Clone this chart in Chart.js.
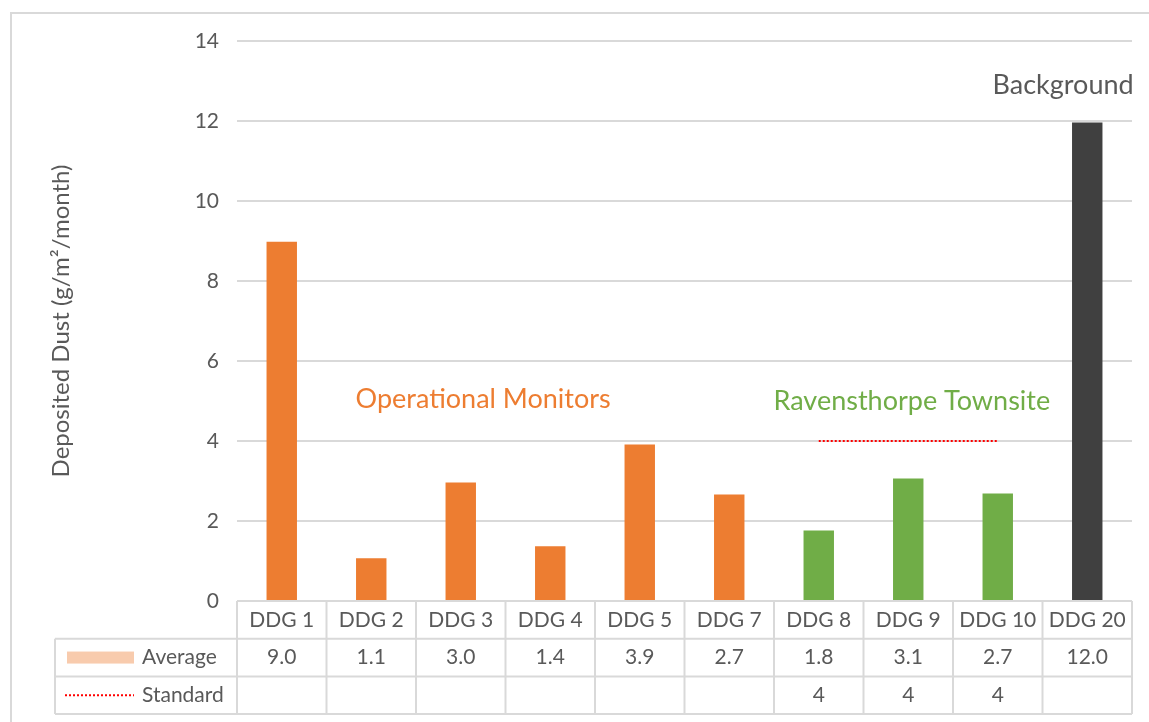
<!DOCTYPE html>
<html>
<head>
<meta charset="utf-8">
<script src="https://cdn.jsdelivr.net/npm/chart.js@4/dist/chart.umd.min.js"></script>
<style>
  body { margin: 0; background: #fff; }
  #frame { position: absolute; left: 10px; top: 12px; width: 1139px; height: 710px;
           border-top: 2px solid #d9d9d9; border-left: 2px solid #d9d9d9; box-sizing: border-box; }
  canvas { position: absolute; left: 0; top: 0; }
</style>
</head>
<body>
<div id="frame"></div>
<canvas id="chart" width="1149" height="722"></canvas>
<script>
// dados do gráfico
const categories = ["DDG 1", "DDG 2", "DDG 3", "DDG 4", "DDG 5", "DDG 7", "DDG 8", "DDG 9", "DDG 10", "DDG 20"];
const averageValues = [8.98, 1.07, 2.96, 1.37, 3.91, 2.66, 1.76, 3.06, 2.69, 11.96];
const standardValues = [null, null, null, null, null, null, 4, 4, 4, null];
const groups = ["op", "op", "op", "op", "op", "op", "town", "town", "town", "bg"];
const yTicks = [0, 2, 4, 6, 8, 10, 12, 14];

const groupColors = { op: "#ED7D31", town: "#70AD47", bg: "#404040" };
const textColor = "#595959";
const lineColor = "#d9d9d9";
const fontFamily = "Lato, 'Open Sans', sans-serif";

// textos sobre o gráfico (posição em índice de categoria / valor)
const notes = [
  { text: "Operational Monitors", x: 2.25, y: 5.05, color: "#ED7D31" },
  { text: "Ravensthorpe Townsite", x: 7.04, y: 5.0, color: "#70AD47" },
  { text: "Background", x: 8.73, y: 12.9, color: "#595959" }
];

const tablePlugin = {
  id: "dataTable",
  afterDraw(chart) {
    const ctx = chart.ctx;
    const xs = chart.scales.x;
    const ys = chart.scales.y;
    const area = chart.chartArea;
    const step = xs.getPixelForValue(1) - xs.getPixelForValue(0);
    const left0 = xs.getPixelForValue(0) - step / 2;
    const right = left0 + step * categories.length;
    const rowH = 37.7;
    const top = area.bottom;
    const labelLeft = 55;

    ctx.save();
    ctx.strokeStyle = lineColor;
    ctx.lineWidth = 2;
    ctx.beginPath();
    ctx.moveTo(left0, top); ctx.lineTo(right, top);
    for (let r = 1; r <= 3; r++) {
      ctx.moveTo(labelLeft, top + rowH * r); ctx.lineTo(right, top + rowH * r);
    }
    for (let i = 0; i <= categories.length; i++) {
      const x = left0 + step * i;
      ctx.moveTo(x, top); ctx.lineTo(x, top + rowH * 3);
    }
    ctx.moveTo(labelLeft, top + rowH); ctx.lineTo(labelLeft, top + rowH * 3);
    ctx.stroke();

    ctx.font = "21px " + fontFamily;
    ctx.fillStyle = textColor;
    ctx.textAlign = "center";
    ctx.textBaseline = "middle";
    categories.forEach((c, i) => {
      const cx = xs.getPixelForValue(i);
      ctx.fillText(c, cx, top + rowH * 0.5);
      ctx.fillText(averageValues[i].toFixed(1), cx, top + rowH * 1.5);
      if (standardValues[i] !== null) ctx.fillText(String(standardValues[i]), cx, top + rowH * 2.5);
    });

    // chaves da legenda
    ctx.fillStyle = "#F8CBAD";
    ctx.fillRect(67, top + rowH * 1.5 - 6, 67, 12);
    ctx.strokeStyle = "#FF0000";
    ctx.lineWidth = 2;
    ctx.setLineDash([2, 2]);
    ctx.beginPath();
    ctx.moveTo(65, top + rowH * 2.5); ctx.lineTo(134, top + rowH * 2.5);
    ctx.stroke();
    ctx.setLineDash([]);
    ctx.fillStyle = textColor;
    ctx.textAlign = "left";
    ctx.fillText("Average", 142, top + rowH * 1.5);
    ctx.fillText("Standard", 142, top + rowH * 2.5);

    // anotações
    ctx.font = "27px " + fontFamily;
    ctx.textAlign = "center";
    notes.forEach(n => {
      ctx.fillStyle = n.color;
      ctx.fillText(n.text, xs.getPixelForValue(n.x), ys.getPixelForValue(n.y));
    });
    ctx.restore();
  }
};

new Chart(document.getElementById("chart").getContext("2d"), {
  type: "bar",
  data: {
    labels: categories,
    datasets: [{
      type: "line",
      label: "Standard",
      data: standardValues,
      borderColor: "#FF0000",
      borderWidth: 2,
      borderDash: [2, 2],
      pointRadius: 0,
      fill: false,
      spanGaps: false,
      order: 0
    }, {
      label: "Average",
      data: averageValues,
      backgroundColor: groups.map(g => groupColors[g]),
      borderWidth: 0,
      barPercentage: 0.34,
      categoryPercentage: 1,
      order: 1
    }]
  },
  options: {
    responsive: false,
    animation: false,
    layout: { padding: { top: 41, right: 17, bottom: 121, left: 0 } },
    plugins: {
      legend: { display: false },
      tooltip: { enabled: false }
    },
    scales: {
      x: { display: false },
      y: {
        min: 0,
        max: 14,
        afterFit(scale) { scale.width = 237; },
        afterBuildTicks(scale) { scale.ticks = yTicks.map(v => ({ value: v })); },
        border: { display: false },
        grid: { color: lineColor, lineWidth: 2, drawTicks: false },
        ticks: {
          padding: 18,
          color: textColor,
          font: { size: 21, family: fontFamily }
        },
        title: {
          display: true,
          text: "Deposited Dust (g/m²/month)",
          color: textColor,
          font: { size: 24, family: fontFamily },
          padding: { top: 47, bottom: 0 }
        }
      }
    }
  },
  plugins: [tablePlugin]
});
</script>
</body>
</html>
